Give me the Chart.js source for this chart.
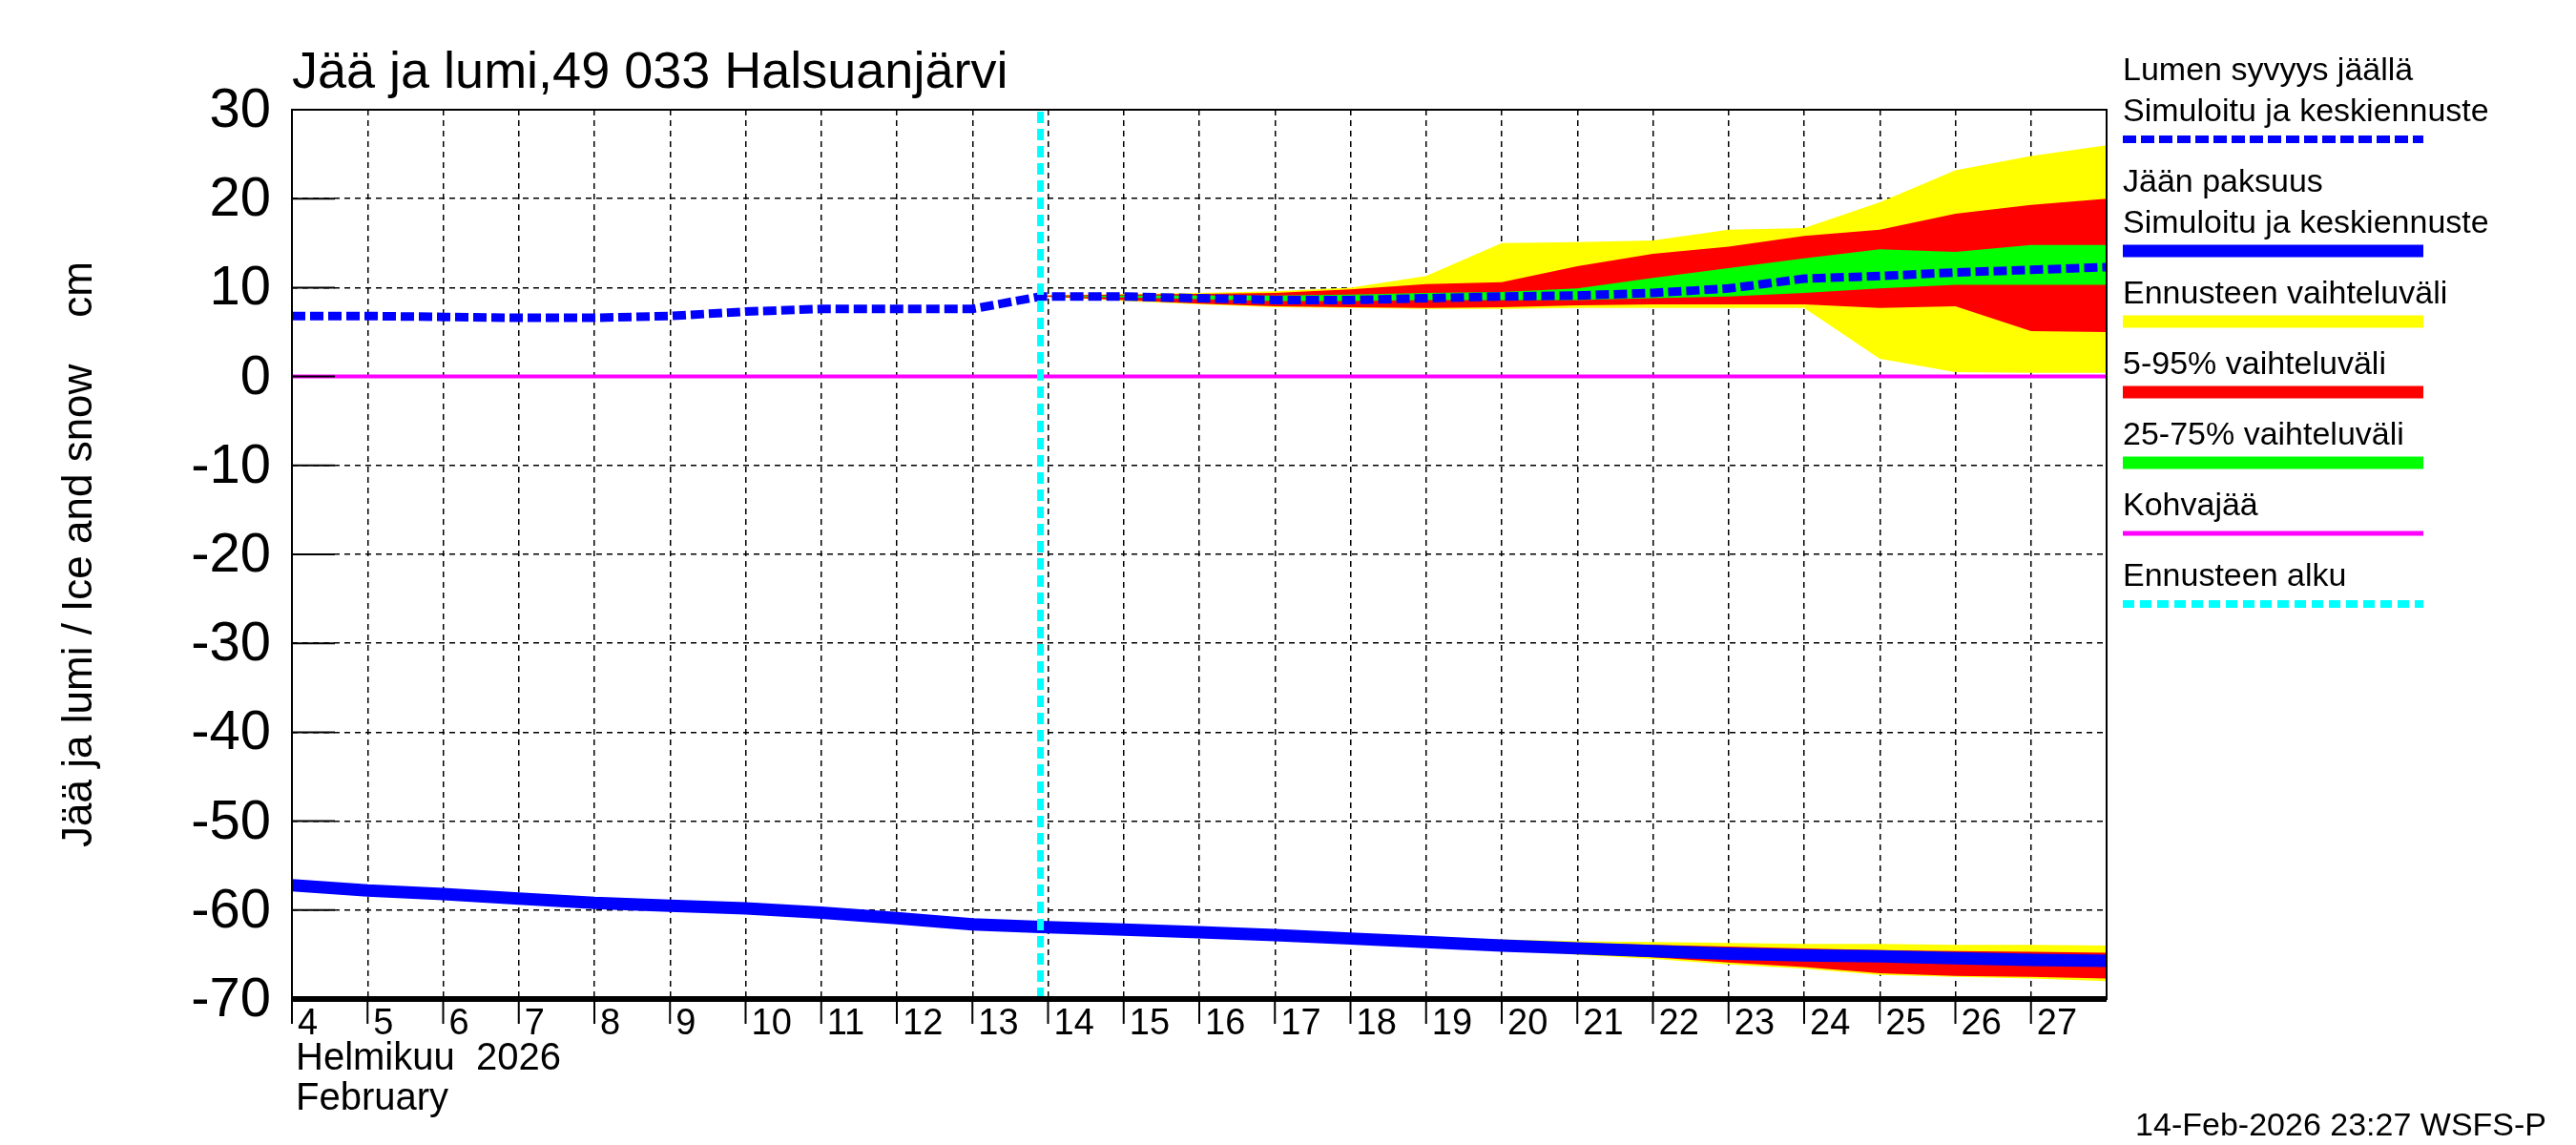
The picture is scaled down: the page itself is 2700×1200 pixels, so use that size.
<!DOCTYPE html>
<html><head><meta charset="utf-8">
<script src="https://cdn.jsdelivr.net/npm/chart.js@4.4.1/dist/chart.umd.min.js"></script>
<style>html,body{margin:0;padding:0;background:#fff}#w{width:2700px;height:1200px;position:relative}</style>
</head><body><div id="w"><canvas id="c" width="2700" height="1200"></canvas></div>
<script>
// ---- data ----
const histDays = [4,5,6,7,8,9,10,11,12,13,13.9];
const snowHist = [6.8,6.8,6.7,6.6,6.6,6.8,7.3,7.6,7.6,7.6,9.0];
const iceHist = [-57.2,-57.8,-58.2,-58.7,-59.2,-59.5,-59.8,-60.3,-60.9,-61.6,-61.9];
const fcDays = [13.9,15,16,17,18,19,20,21,22,23,24,25,26,27,28];
const snowMed   = [9.0,9.0,8.8,8.6,8.6,8.8,9.0,9.1,9.4,9.9,11.0,11.3,11.7,12.0,12.3];
const snowYTop  = [9.1,9.3,9.4,9.6,10.0,11.3,15.0,15.1,15.3,16.5,16.7,19.6,23.2,24.8,26.0];
const snowRTop  = [9.1,9.2,9.3,9.4,9.8,10.4,10.6,12.4,13.8,14.6,15.8,16.5,18.3,19.3,20.0];
const snowGTop  = [9.0,9.1,9.1,9.1,9.2,9.4,9.5,9.9,11.1,12.2,13.3,14.3,14.0,14.8,14.8];
const snowGBot  = [9.0,8.9,8.7,8.5,8.5,8.6,8.6,8.6,8.8,9.0,9.4,9.9,10.3,10.3,10.3];
const snowRBot  = [9.0,8.6,8.2,7.9,7.8,7.7,7.8,8.0,8.1,8.1,8.1,7.7,7.9,5.1,5.0];
const snowYBot  = [9.0,8.5,8.1,7.8,7.7,7.6,7.6,7.7,7.7,7.7,7.7,2.0,0.5,0.4,0.4];
const iceMed    = [-61.9,-62.2,-62.5,-62.8,-63.2,-63.6,-64.0,-64.3,-64.6,-64.9,-65.1,-65.2,-65.4,-65.6,-65.7];
const iceYTop   = [-61.9,-62.2,-62.5,-62.7,-63.0,-63.2,-63.3,-63.5,-63.6,-63.7,-63.8,-63.8,-63.9,-63.9,-64.0];
const iceRTop   = [-61.9,-62.2,-62.5,-62.8,-63.1,-63.4,-63.5,-63.7,-63.9,-64.1,-64.3,-64.5,-64.6,-64.7,-64.8];
const iceRBot   = [-61.9,-62.3,-62.6,-62.9,-63.3,-63.8,-64.3,-64.8,-65.3,-65.9,-66.4,-67.1,-67.4,-67.5,-67.7];
const iceYBot   = [-61.9,-62.3,-62.7,-63.0,-63.4,-63.9,-64.4,-65.0,-65.5,-66.1,-66.6,-67.3,-67.5,-67.7,-68.0];
const yTicks = [30,20,10,0,-10,-20,-30,-40,-50,-60,-70];
const xDays = [4,5,6,7,8,9,10,11,12,13,14,15,16,17,18,19,20,21,22,23,24,25,26,27];
const forecastStart = 13.9;
const title = 'Jää ja lumi,49 033 Halsuanjärvi';
const yTitle = 'Jää ja lumi / Ice and snow    cm';
const monthFi = 'Helmikuu  2026', monthEn = 'February';
const footer = '14-Feb-2026 23:27 WSFS-P';
const legendItems = [
  {t:['Lumen syvyys jäällä','Simuloitu ja keskiennuste'], c:'#0000ff', w:8, d:[14,5]},
  {t:['Jään paksuus','Simuloitu ja keskiennuste'], c:'#0000ff', w:13, d:[]},
  {t:['Ennusteen vaihteluväli'], c:'#ffff00', w:13, d:[]},
  {t:['5-95% vaihteluväli'], c:'#ff0000', w:13, d:[]},
  {t:['25-75% vaihteluväli'], c:'#00ff00', w:13, d:[]},
  {t:['Kohvajää'], c:'#ff00ff', w:5, d:[]},
  {t:['Ennusteen alku'], c:'#00ffff', w:8, d:[12,6]},
];
// ---- build ----
const pts=(xs,ys)=>xs.map((x,i)=>({x,y:ys[i]}));
const band=(top,bot,col,ord)=>[
  {data:pts(fcDays,top),backgroundColor:col,borderWidth:0,pointRadius:0,fill:'+1',order:ord},
  {data:pts(fcDays,bot),borderWidth:0,pointRadius:0,fill:false,order:ord}];
const ds=[
  ...band(snowYTop,snowYBot,'#ffff00',10),
  ...band(snowRTop,snowRBot,'#ff0000',9),
  ...band(snowGTop,snowGBot,'#00ff00',8),
  ...band(iceYTop,iceYBot,'#ffff00',10),
  ...band(iceRTop,iceRBot,'#ff0000',9),
  {data:pts([4,28],[0,0]),borderColor:'#ff00ff',borderWidth:4,pointRadius:0,order:7},
  {data:pts(histDays.concat(fcDays.slice(1)),iceHist.concat(iceMed.slice(1))),borderColor:'#0000ff',borderWidth:13,pointRadius:0,order:5},
  {data:pts(histDays.concat(fcDays.slice(1)),snowHist.concat(snowMed.slice(1))),borderColor:'#0000ff',borderWidth:9,borderDash:[14,5],pointRadius:0,order:4},
  {data:pts([forecastStart,forecastStart],[-70,30]),borderColor:'#00ffff',borderWidth:7,borderDash:[12,6],pointRadius:0,order:3},
];
const F='"Liberation Sans", Arial, sans-serif';
const textPlugin={id:'txt',afterDraw(ch){
  const c=ch.ctx,xs=ch.scales.x,ys=ch.scales.y,a=ch.chartArea;
  c.save();c.fillStyle='#000';
  c.lineWidth=2;c.strokeStyle='#000';c.strokeRect(a.left,a.top,a.right-a.left,a.bottom-a.top);
  c.lineWidth=6;c.beginPath();c.moveTo(a.left,a.bottom);c.lineTo(a.right,a.bottom);c.stroke();
  c.lineWidth=2;
  c.font='58px '+F;c.textAlign='right';c.textBaseline='middle';
  yTicks.forEach(v=>{const y=ys.getPixelForValue(v);c.fillText(String(v),a.left-22,y+2);
    c.beginPath();c.moveTo(a.left,y);c.lineTo(a.left+45,y);c.stroke();});
  c.font='38px '+F;c.textAlign='left';c.textBaseline='top';
  xDays.forEach(d=>{const x=xs.getPixelForValue(d);c.fillText(String(d),x+6,a.bottom+8);
    c.beginPath();c.moveTo(x,a.bottom);c.lineTo(x,a.bottom+26);c.stroke();});
  c.font='40px '+F;c.fillText(monthFi,a.left+4,a.bottom+43);c.fillText(monthEn,a.left+4,a.bottom+85);
  c.font='54px '+F;c.textBaseline='alphabetic';c.fillText(title,a.left,92);
  c.font='34px '+F;c.textAlign='right';c.fillText(footer,2669,1190);
  c.save();c.translate(96,(a.top+a.bottom)/2);c.rotate(-Math.PI/2);c.font='44px '+F;c.textAlign='center';c.fillText(yTitle,0,0);c.restore();
  c.textAlign='left';c.font='34px '+F;let y=84;
  legendItems.forEach(it=>{it.t.forEach(s=>{c.fillText(s,2225,y);y+=43;});
    const ly=y-24;c.strokeStyle=it.c;c.lineWidth=it.w;c.setLineDash(it.d);c.beginPath();c.moveTo(2225,ly);c.lineTo(2540,ly);c.stroke();c.setLineDash([]);
    y+=31;});
  c.restore();}};
new Chart(document.getElementById('c'),{type:'line',data:{datasets:ds},
 options:{responsive:false,animation:false,events:[],layout:{padding:{left:306,top:115,right:492,bottom:153}},
  plugins:{legend:{display:false},tooltip:{enabled:false}},
  elements:{line:{tension:0}},
  scales:{
   x:{type:'linear',min:4,max:28,border:{display:false,dash:[6,5]},ticks:{display:false,stepSize:1},
      grid:{drawTicks:false,color:'#000',lineWidth:1.5},afterBuildTicks(s){s.ticks=xDays.concat([28]).map(v=>({value:v}));}},
   y:{min:-70,max:30,border:{display:false,dash:[6,5]},ticks:{display:false,stepSize:10},
      grid:{drawTicks:false,color:'#000',lineWidth:1.5}}
  }},
 plugins:[textPlugin]});
</script></body></html>
